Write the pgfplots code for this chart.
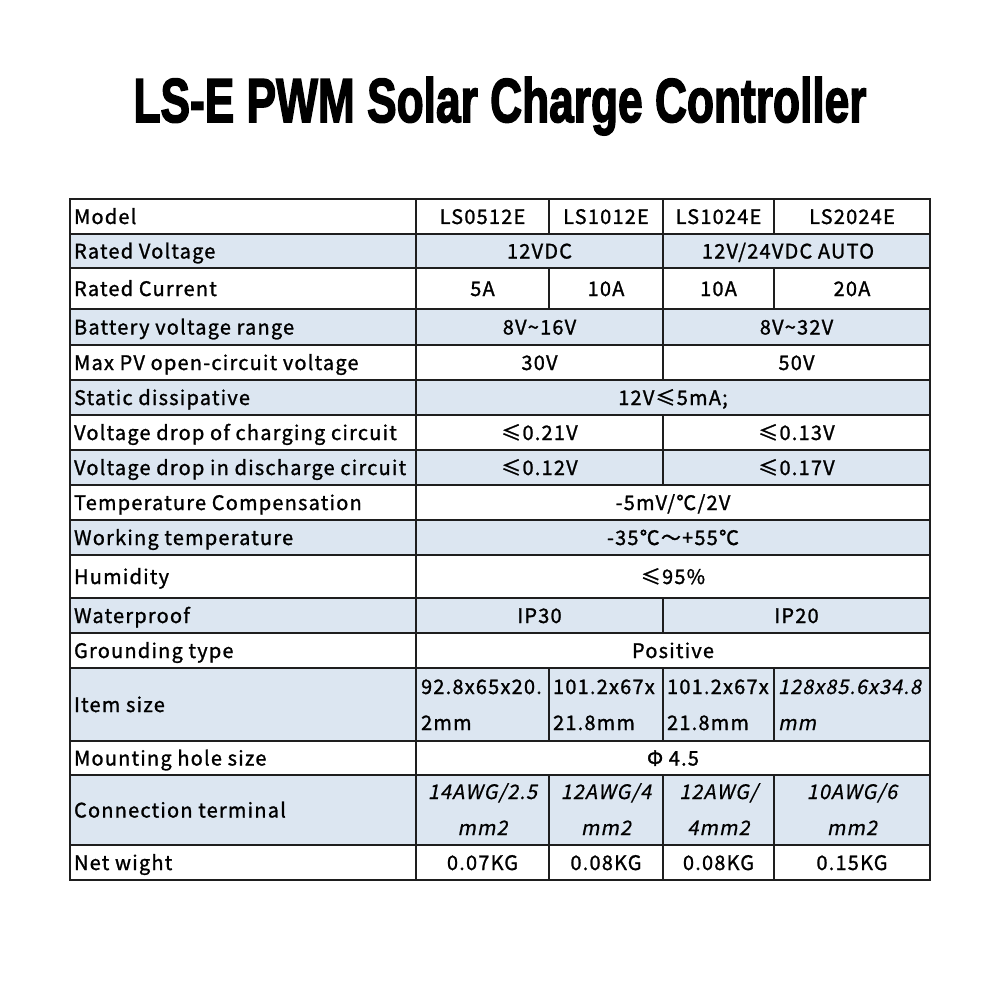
\documentclass[border=0pt]{standalone}
\usepackage{pgfplots}
\pgfplotsset{compat=1.18}
\usepackage{graphicx}
\usepackage{fontspec}
\setmainfont{Noto Sans CJK SC}[FakeBold=1.2,LetterSpace=6]
\newfontfamily\itfont{Noto Sans CJK SC}[FakeSlant=0.2,FakeBold=0.6,LetterSpace=5]
\newfontfamily\titlefont{Liberation Sans}[FakeBold=2.8]
\definecolor{rowblue}{RGB}{220,230,241}
\definecolor{gridc}{RGB}{30,30,30}
\begin{document}
\begin{tikzpicture}
\begin{axis}[
  width=500pt, height=500pt, scale only axis,
  xmin=0, xmax=1000, ymin=0, ymax=1000, y dir=reverse,
  hide axis, clip=false, unbounded coords=jump,
  every node/.append style={font=\fontsize{10.7pt}{12pt}\selectfont, inner sep=0pt, text=black}
]
% background
\addplot[fill=white, draw=none] coordinates {(0,0)(1000,0)(1000,1000)(0,1000)};
% shaded rows
\addplot[fill=rowblue, draw=none] coordinates {(70,234)(930,234)(930,268)(70,268)};
\addplot[fill=rowblue, draw=none] coordinates {(70,309)(930,309)(930,345)(70,345)};
\addplot[fill=rowblue, draw=none] coordinates {(70,380)(930,380)(930,415)(70,415)};
\addplot[fill=rowblue, draw=none] coordinates {(70,450)(930,450)(930,485)(70,485)};
\addplot[fill=rowblue, draw=none] coordinates {(70,520)(930,520)(930,555)(70,555)};
\addplot[fill=rowblue, draw=none] coordinates {(70,598)(930,598)(930,633)(70,633)};
\addplot[fill=rowblue, draw=none] coordinates {(70,668)(930,668)(930,741)(70,741)};
\addplot[fill=rowblue, draw=none] coordinates {(70,775)(930,775)(930,845)(70,845)};
% horizontal rules
\addplot[gridc, line width=0.9pt, line cap=rect] table[row sep=\\] {
x y\\
70 199\\ 930 199\\ nan nan\\
70 234\\ 930 234\\ nan nan\\
70 268\\ 930 268\\ nan nan\\
70 309\\ 930 309\\ nan nan\\
70 345\\ 930 345\\ nan nan\\
70 380\\ 930 380\\ nan nan\\
70 415\\ 930 415\\ nan nan\\
70 450\\ 930 450\\ nan nan\\
70 485\\ 930 485\\ nan nan\\
70 520\\ 930 520\\ nan nan\\
70 555\\ 930 555\\ nan nan\\
70 598\\ 930 598\\ nan nan\\
70 633\\ 930 633\\ nan nan\\
70 668\\ 930 668\\ nan nan\\
70 741\\ 930 741\\ nan nan\\
70 775\\ 930 775\\ nan nan\\
70 845\\ 930 845\\ nan nan\\
70 880\\ 930 880\\
};
% vertical rules
\addplot[gridc, line width=0.9pt] table[row sep=\\] {
x y\\
70 199\\ 70 880\\ nan nan\\
930 199\\ 930 880\\ nan nan\\
416 199\\ 416 880\\ nan nan\\
549 199\\ 549 234\\ nan nan\\
549 268\\ 549 309\\ nan nan\\
549 668\\ 549 741\\ nan nan\\
549 775\\ 549 880\\ nan nan\\
663 199\\ 663 380\\ nan nan\\
663 415\\ 663 485\\ nan nan\\
663 598\\ 663 633\\ nan nan\\
663 668\\ 663 741\\ nan nan\\
663 775\\ 663 880\\ nan nan\\
774 199\\ 774 234\\ nan nan\\
774 268\\ 774 309\\ nan nan\\
774 668\\ 774 741\\ nan nan\\
774 775\\ 774 880\\
};
% title
\node[anchor=base] at (axis cs:500,122) {\resizebox{366.5pt}{22.5pt}{\titlefont\bfseries LS-E PWM Solar Charge Controller}};
% left column
\node[anchor=base west] at (axis cs:67,224) {Model};
\node[anchor=base west] at (axis cs:67,258.5) {Rated Voltage};
\node[anchor=base west] at (axis cs:67,296) {Rated Current};
\node[anchor=base west] at (axis cs:67,334.5) {Battery voltage range};
\node[anchor=base west] at (axis cs:67,370) {Max PV open-circuit voltage};
\node[anchor=base west] at (axis cs:67,405) {Static dissipative};
\node[anchor=base west] at (axis cs:67,440) {Voltage drop of charging circuit};
\node[anchor=base west] at (axis cs:67,475) {Voltage drop in discharge circuit};
\node[anchor=base west] at (axis cs:67,510) {Temperature Compensation};
\node[anchor=base west] at (axis cs:67,545) {Working temperature};
\node[anchor=base west] at (axis cs:67,584) {Humidity};
\node[anchor=base west] at (axis cs:67,623) {Waterproof};
\node[anchor=base west] at (axis cs:67,658) {Grounding type};
\node[anchor=base west] at (axis cs:67,712) {Item size};
\node[anchor=base west] at (axis cs:67,765.5) {Mounting hole size};
\node[anchor=base west] at (axis cs:67,817.5) {Connection terminal};
\node[anchor=base west] at (axis cs:67,870) {Net wight};
% values
\node[anchor=base] at (axis cs:482.5,224) {LS0512E};
\node[anchor=base] at (axis cs:606,224) {LS1012E};
\node[anchor=base] at (axis cs:718.5,224) {LS1024E};
\node[anchor=base] at (axis cs:852,224) {LS2024E};
\node[anchor=base] at (axis cs:539.5,258.5) {12VDC};
\node[anchor=base] at (axis cs:788,258.5) {12V/24VDC AUTO};
\node[anchor=base] at (axis cs:482.5,296) {5A};
\node[anchor=base] at (axis cs:606,296) {10A};
\node[anchor=base] at (axis cs:718.5,296) {10A};
\node[anchor=base] at (axis cs:852,296) {20A};
\node[anchor=base] at (axis cs:539.5,334.5) {8V\textasciitilde16V};
\node[anchor=base] at (axis cs:796.5,334.5) {8V\textasciitilde32V};
\node[anchor=base] at (axis cs:539.5,370) {30V};
\node[anchor=base] at (axis cs:796.5,370) {50V};
\node[anchor=base] at (axis cs:673,405) {12V≤5mA;};
\node[anchor=base] at (axis cs:539.5,440) {≤0.21V};
\node[anchor=base] at (axis cs:796.5,440) {≤0.13V};
\node[anchor=base] at (axis cs:539.5,475) {≤0.12V};
\node[anchor=base] at (axis cs:796.5,475) {≤0.17V};
\node[anchor=base] at (axis cs:673,510) {-5mV/℃/2V};
\node[anchor=base] at (axis cs:673,545) {-35℃～+55℃};
\node[anchor=base] at (axis cs:673,584) {≤95\%};
\node[anchor=base] at (axis cs:539.5,623) {IP30};
\node[anchor=base] at (axis cs:796.5,623) {IP20};
\node[anchor=base] at (axis cs:673,658) {Positive};
\node[anchor=base west] at (axis cs:414,694) {92.8x65x20.};
\node[anchor=base west] at (axis cs:414,730) {2mm};
\node[anchor=base west] at (axis cs:546,694) {101.2x67x};
\node[anchor=base west] at (axis cs:546,730) {21.8mm};
\node[anchor=base west] at (axis cs:660,694) {101.2x67x};
\node[anchor=base west] at (axis cs:660,730) {21.8mm};
\node[anchor=base west] at (axis cs:771,694) {\itfont 128x85.6x34.8};
\node[anchor=base west] at (axis cs:771,730) {\itfont mm};
\node[anchor=base] at (axis cs:673,765.5) {Φ 4.5};
\node[anchor=base] at (axis cs:482.5,799) {\itfont 14AWG/2.5};
\node[anchor=base] at (axis cs:482.5,835) {\itfont mm2};
\node[anchor=base] at (axis cs:606,799) {\itfont 12AWG/4};
\node[anchor=base] at (axis cs:606,835) {\itfont mm2};
\node[anchor=base] at (axis cs:718.5,799) {\itfont 12AWG/};
\node[anchor=base] at (axis cs:718.5,835) {\itfont 4mm2};
\node[anchor=base] at (axis cs:852,799) {\itfont 10AWG/6};
\node[anchor=base] at (axis cs:852,835) {\itfont mm2};
\node[anchor=base] at (axis cs:482.5,870) {0.07KG};
\node[anchor=base] at (axis cs:606,870) {0.08KG};
\node[anchor=base] at (axis cs:718.5,870) {0.08KG};
\node[anchor=base] at (axis cs:852,870) {0.15KG};
\end{axis}
\end{tikzpicture}
\end{document}
